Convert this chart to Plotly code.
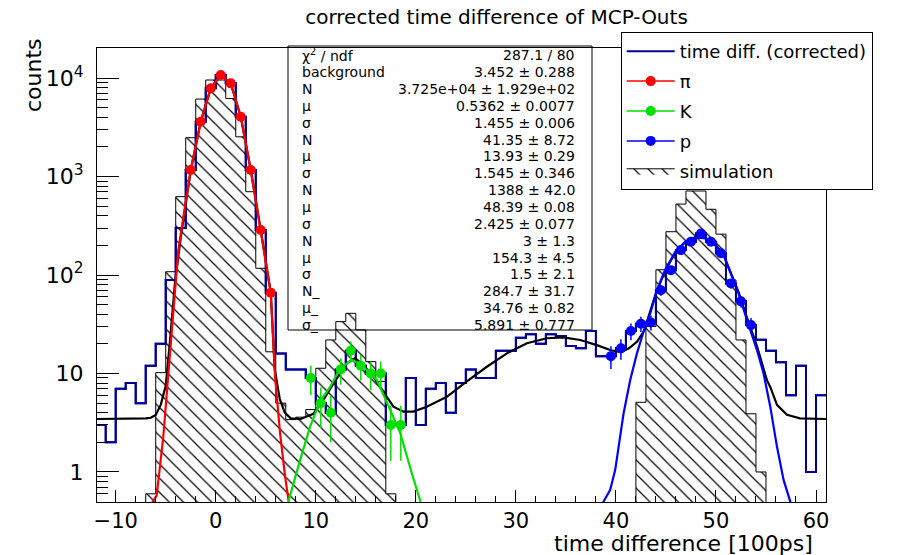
import plotly.graph_objects as go

# ---------------- data ----------------
bin_edges = list(range(-12, 62))          # 1-unit bins, -12 .. 61

# measured "time diff. (corrected)" histogram, bins -12 .. 60
data_counts = [3, 2, 7, 8, 5, 12, 20, 89, 300,
               1164, 3600, 7860, 10720, 8830, 4045, 1164, 286, 66,
               16, 11, 11, 9, 5, 4, 11, 17, 12, 10, 10, 3, 3, 9, 3,
               7, 8, 4, 8, 11, 9, 9, 17, 17, 23, 25, 20, 25, 24, 19, 18, 27, 15,
               15, 18, 27, 32, 33, 70, 112, 179, 218, 264, 218, 166, 82, 54, 31,
               22, 17, 13, 6, 12, 1, 6]

# simulation histogram, bins -12 .. 60
sim_counts = [0, 0, 0, 0, 0, 0.6, 10.2, 108, 624,
              2477, 6120, 9550, 9550, 6200, 2530, 701, 117, 16.6,
              5.0, 3.4, 3.6, 4.3, 11.3, 21.9, 33.6, 40.8, 27.7, 13.2, 8.3, 0.6, 0, 0, 0,
              0, 0, 0, 0, 0, 0, 0, 0, 0, 0, 0, 0, 0, 0, 0, 0, 0, 0,
              0, 0, 0, 5.1, 30, 113, 275, 525, 713, 713, 465, 260, 89, 21.9, 3.9,
              1.0, 0, 0, 0, 0, 0, 0]

# pion points
pi_x = [-2.5, -1.5, -0.5, 0.5, 1.5, 2.5, 3.5, 4.5, 5.5]
pi_y = [1164, 3600, 7860, 10720, 8830, 4045, 1164, 286, 66]
pi_err = [34, 60, 89, 104, 94, 64, 34, 17, 8]

# kaon points
k_x = [9.5, 10.5, 11.5, 12.5, 13.5, 14.5, 15.5, 16.5, 17.5, 18.5]
k_y = [9, 5, 4, 11, 17, 12, 10, 10, 3, 3]
k_err = [3.0, 2.2, 2.0, 3.3, 4.1, 3.5, 3.2, 3.2, 1.7, 1.7]

# proton points
p_x = [39.5, 40.5, 41.5, 42.5, 43.5, 44.5, 45.5, 46.5, 47.5, 48.5,
       49.5, 50.5, 51.5, 52.5, 53.5]
p_y = [15, 18, 27, 32, 33, 70, 112, 179, 218, 264, 218, 166, 82, 54, 31]
p_err = [3.9, 4.2, 5.2, 5.7, 5.7, 8.4, 10.6, 13.4, 14.8, 16.2, 14.8, 12.9, 9.1, 7.3, 5.6]

# total fit curve (black)
fit_t = [-11.9, -8.0, -7.0, -6.5, -6.0, -5.5, -5.0, -4.6, -4.07, -3.5, -2.5, -1.5,
         -0.5, 0.5, 1.5, 2.5, 3.5, 4.5, 5.5, 5.9, 6.4, 6.9, 7.5, 8.5, 9.76, 10.76,
         11.76, 13.1, 13.93, 14.76, 15.76, 16.76, 17.76, 18.76, 19.76, 21.1, 23.1,
         25.1, 27.1, 29.1, 31.1, 33.1, 34.76, 36.43, 38.1, 39.5, 40.5, 41.3, 42.1,
         42.8, 43.4, 44.1, 45.0, 46.0, 47.0, 48.0, 49.0, 50.0, 50.76, 51.43, 52.26,
         53.1, 54.1, 55.1, 55.43, 56.1, 57.1, 58.4, 61.0]
fit_v = [3.45, 3.45, 3.5, 3.55, 3.8, 4.8, 7.5, 20, 85, 240, 1164, 3600,
         7860, 10720, 8830, 4045, 1164, 286, 66, 11, 5.5, 4.0, 3.5, 3.45, 3.9, 5.4,
         7.9, 12.7, 14.3, 12.2, 9.3, 6.5, 4.6, 4.1, 4.1, 4.6, 5.8,
         8.3, 11.7, 16, 20.3, 22.8, 23.3, 21.9, 19.4, 17.2, 16.5, 18, 21,
         27, 41, 70, 114, 173, 219, 242, 237, 200, 160, 110, 67,
         37, 19, 8.5, 7.3, 4.8, 3.8, 3.5, 3.45]

# pion curve (red)
pi_curve_t = [-6.75, -5.9, -5.24, -4.57, -4.07, -3.74, -2.5, -1.5, -0.5, 0.5, 1.5,
              2.5, 3.5, 4.5, 5.5, 5.93, 6.43, 6.93, 7.26, 7.4]
pi_curve_v = [0.42, 0.58, 2.3, 17.3, 82, 180, 1164, 3600, 7860, 10720, 8830,
              4045, 1164, 286, 66, 9.3, 2.47, 0.9, 0.5, 0.42]

# kaon curve (green)
k_curve_t = [7.1, 7.26, 8.43, 9.43, 10.43, 11.43, 12.43, 13.6, 14.6, 16.1, 17.43,
             18.43, 19.6, 20.43, 20.6]
k_curve_v = [0.42, 0.5, 1.32, 2.88, 5.2, 7.3, 11.3, 13.7, 12.2, 8.6, 4.3,
             2.5, 0.97, 0.5, 0.45]

# proton curve (blue)
p_curve_t = [38.6, 38.76, 39.43, 39.93, 40.76, 41.43, 42.1, 42.76, 43.43, 44.1, 44.93,
             45.93, 46.93, 47.93, 48.93, 49.93, 50.76, 51.43, 52.26, 53.1, 54.1,
             54.76, 55.43, 56.1, 56.76, 57.43, 57.6]
p_curve_v = [0.42, 0.5, 0.66, 1.05, 3.9, 8.6, 16, 26.5, 40.8, 70, 113,
             172, 218, 241, 236, 200, 159, 108, 65, 35, 17.3,
             10, 4.6, 1.8, 0.83, 0.5, 0.42]

# fit statistics box
stats_names = ["χ<sup>2</sup> / ndf", "background", "N", "μ", "σ", "N", "μ", "σ",
               "N", "μ", "σ", "N", "μ", "σ", "N_", "μ_", "σ_"]
stats_values = ["287.1 / 80", "3.452 ± 0.288", "3.725e+04 ± 1.929e+02",
                "0.5362 ± 0.0077", "1.455 ± 0.006", "41.35 ± 8.72", "13.93 ± 0.29",
                "1.545 ± 0.346", "1388 ± 42.0", "48.39 ± 0.08", "2.425 ± 0.077",
                "3 ± 1.3", "154.3 ± 4.5", "1.5 ± 2.1", "284.7 ± 31.7",
                "34.76 ± 0.82", "5.891 ± 0.777"]

y_ticks = [1, 10, 100, 1000, 10000]
y_ticktext = ["1", "10", "10<sup>2</sup>", "10<sup>3</sup>", "10<sup>4</sup>"]

# ---------------- layout helpers ----------------
W, H = 904, 555
L, R, T, B = 97, 826, 48, 502
FONT = "DejaVu Sans"


def px(x):
    return (x - L) / (R - L)


def py(y):
    return (B - y) / (B - T)


DATA_COL = "#000099"
RED = "#ff0000"
GREEN = "#00e000"
BLUE = "#0000ff"

fig = go.Figure()

# data histogram (first in legend)
fig.add_trace(go.Scatter(
    x=bin_edges, y=data_counts + [data_counts[-1]], mode="lines",
    line=dict(color=DATA_COL, width=2, shape="hv"),
    name="time diff. (corrected)", legendgroup="g1"))

# legend-only entries for the species
for nm, col, grp in [("π", RED, "g2"), ("K", GREEN, "g3"), ("p", BLUE, "g4")]:
    fig.add_trace(go.Scatter(
        x=[None], y=[None], mode="lines+markers", name=nm,
        line=dict(color=col, width=1.5),
        marker=dict(color=col, size=10), legendgroup=grp))

# simulation (hatched step histogram)
floor = 1e-3
sx, sy = [bin_edges[0]], [floor]
for i, c in enumerate(sim_counts):
    v = c if c > 0 else floor
    sx += [bin_edges[i], bin_edges[i + 1]]
    sy += [v, v]
sx.append(bin_edges[-1])
sy.append(floor)
fig.add_trace(go.Scatter(
    x=sx, y=sy, mode="lines", fill="toself", name="simulation",
    line=dict(color="black", width=1),
    fillcolor="rgba(0,0,0,0)",
    fillpattern=dict(shape="\\", fgcolor="black", bgcolor="rgba(0,0,0,0)",
                     size=10, solidity=0.12, fillmode="replace"),
    legendgroup="g5", hoverinfo="skip"))

# data histogram drawn again above the hatching (no legend)
fig.add_trace(go.Scatter(
    x=bin_edges, y=data_counts + [data_counts[-1]], mode="lines",
    line=dict(color=DATA_COL, width=2, shape="hv"),
    showlegend=False, legendgroup="g1"))

# total fit
fig.add_trace(go.Scatter(x=fit_t, y=fit_v, mode="lines",
                         line=dict(color="black", width=2.2),
                         showlegend=False, legendgroup="g1"))

# component curves
fig.add_trace(go.Scatter(x=pi_curve_t, y=pi_curve_v, mode="lines",
                         line=dict(color=RED, width=2.2), showlegend=False,
                         legendgroup="g2"))
fig.add_trace(go.Scatter(x=k_curve_t, y=k_curve_v, mode="lines",
                         line=dict(color=GREEN, width=2.2), showlegend=False,
                         legendgroup="g3"))
fig.add_trace(go.Scatter(x=p_curve_t, y=p_curve_v, mode="lines",
                         line=dict(color=BLUE, width=2.2), showlegend=False,
                         legendgroup="g4"))

# points with error bars
for xs, ys, es, col, grp in [(pi_x, pi_y, pi_err, RED, "g2"),
                             (k_x, k_y, k_err, GREEN, "g3"),
                             (p_x, p_y, p_err, BLUE, "g4")]:
    fig.add_trace(go.Scatter(
        x=xs, y=ys, mode="markers",
        marker=dict(color=col, size=10, symbol="circle"),
        error_y=dict(type="data", array=es, color=col, thickness=1.5, width=0),
        showlegend=False, legendgroup=grp))

# stats box
shapes = [dict(type="rect", xref="paper", yref="paper",
               x0=px(288), x1=px(592), y0=py(330), y1=py(46),
               line=dict(color="black", width=1), fillcolor="white",
               layer="below")]
annotations = []
for i, (nm, val) in enumerate(zip(stats_names, stats_values)):
    yc = 55.3 + 16.86 * i
    annotations.append(dict(x=px(301), y=py(yc), xref="paper", yref="paper",
                            text=nm, showarrow=False, xanchor="left",
                            yanchor="middle", borderpad=0,
                            font=dict(family=FONT, size=14, color="black")))
    annotations.append(dict(x=px(576), y=py(yc), xref="paper", yref="paper",
                            text=val, showarrow=False, xanchor="right",
                            yanchor="middle", borderpad=0,
                            font=dict(family=FONT, size=14, color="black")))

# axis titles
annotations.append(dict(x=px(814), y=py(543), xref="paper", yref="paper",
                        text="time difference [100ps]", showarrow=False,
                        xanchor="right", yanchor="middle", borderpad=0,
                        font=dict(family=FONT, size=22, color="black")))
annotations.append(dict(x=px(33), y=py(75), xref="paper", yref="paper",
                        text="counts", showarrow=False, textangle=-90,
                        xanchor="center", yanchor="middle", borderpad=0,
                        font=dict(family=FONT, size=22, color="black")))

minor_y = [m * 10 ** e for e in range(-1, 5) for m in range(2, 10)
           if 0.49 < m * 10 ** e < 20001] + [0.6, 0.7, 0.8, 0.9]
minor_y = sorted(set(v for v in minor_y if v not in y_ticks))

fig.update_layout(
    width=W, height=H,
    margin=dict(l=L, r=W - R, t=T, b=H - B, pad=0),
    paper_bgcolor="white", plot_bgcolor="white",
    title=dict(text="corrected time difference of MCP-Outs", x=496.5 / W,
               y=1 - 17 / H, xanchor="center", yanchor="middle",
               font=dict(family=FONT, size=20, color="black")),
    xaxis=dict(range=[-11.87, 61.0], showline=True, mirror=True,
               linecolor="black", linewidth=1, showgrid=False, zeroline=False,
               ticks="inside", ticklen=12, tickwidth=1, tickcolor="black",
               tick0=0, dtick=10,
               minor=dict(ticks="inside", ticklen=6, tickwidth=1,
                          tickcolor="black", tick0=0, dtick=2, showgrid=False),
               tickfont=dict(family=FONT, size=21, color="black")),
    yaxis=dict(type="log", range=[-0.305, 4.305], showline=True, mirror=True,
               linecolor="black", linewidth=1, showgrid=False, zeroline=False,
               ticks="inside", ticklen=22, tickwidth=1, tickcolor="black",
               tickmode="array", tickvals=y_ticks, ticktext=y_ticktext,
               minor=dict(ticks="inside", ticklen=11, tickwidth=1,
                          tickcolor="black", tickmode="array",
                          tickvals=minor_y, showgrid=False),
               ticklabelstandoff=8,
               tickfont=dict(family=FONT, size=22, color="black")),
    legend=dict(x=px(620.7), y=py(32), xanchor="left", yanchor="top",
                bgcolor="white", bordercolor="black", borderwidth=1,
                font=dict(family=FONT, size=18, color="black"),
                tracegroupgap=3.5, itemwidth=48, traceorder="grouped"),
    shapes=shapes, annotations=annotations,
    showlegend=True,
)

fig.write_html("out.html")
